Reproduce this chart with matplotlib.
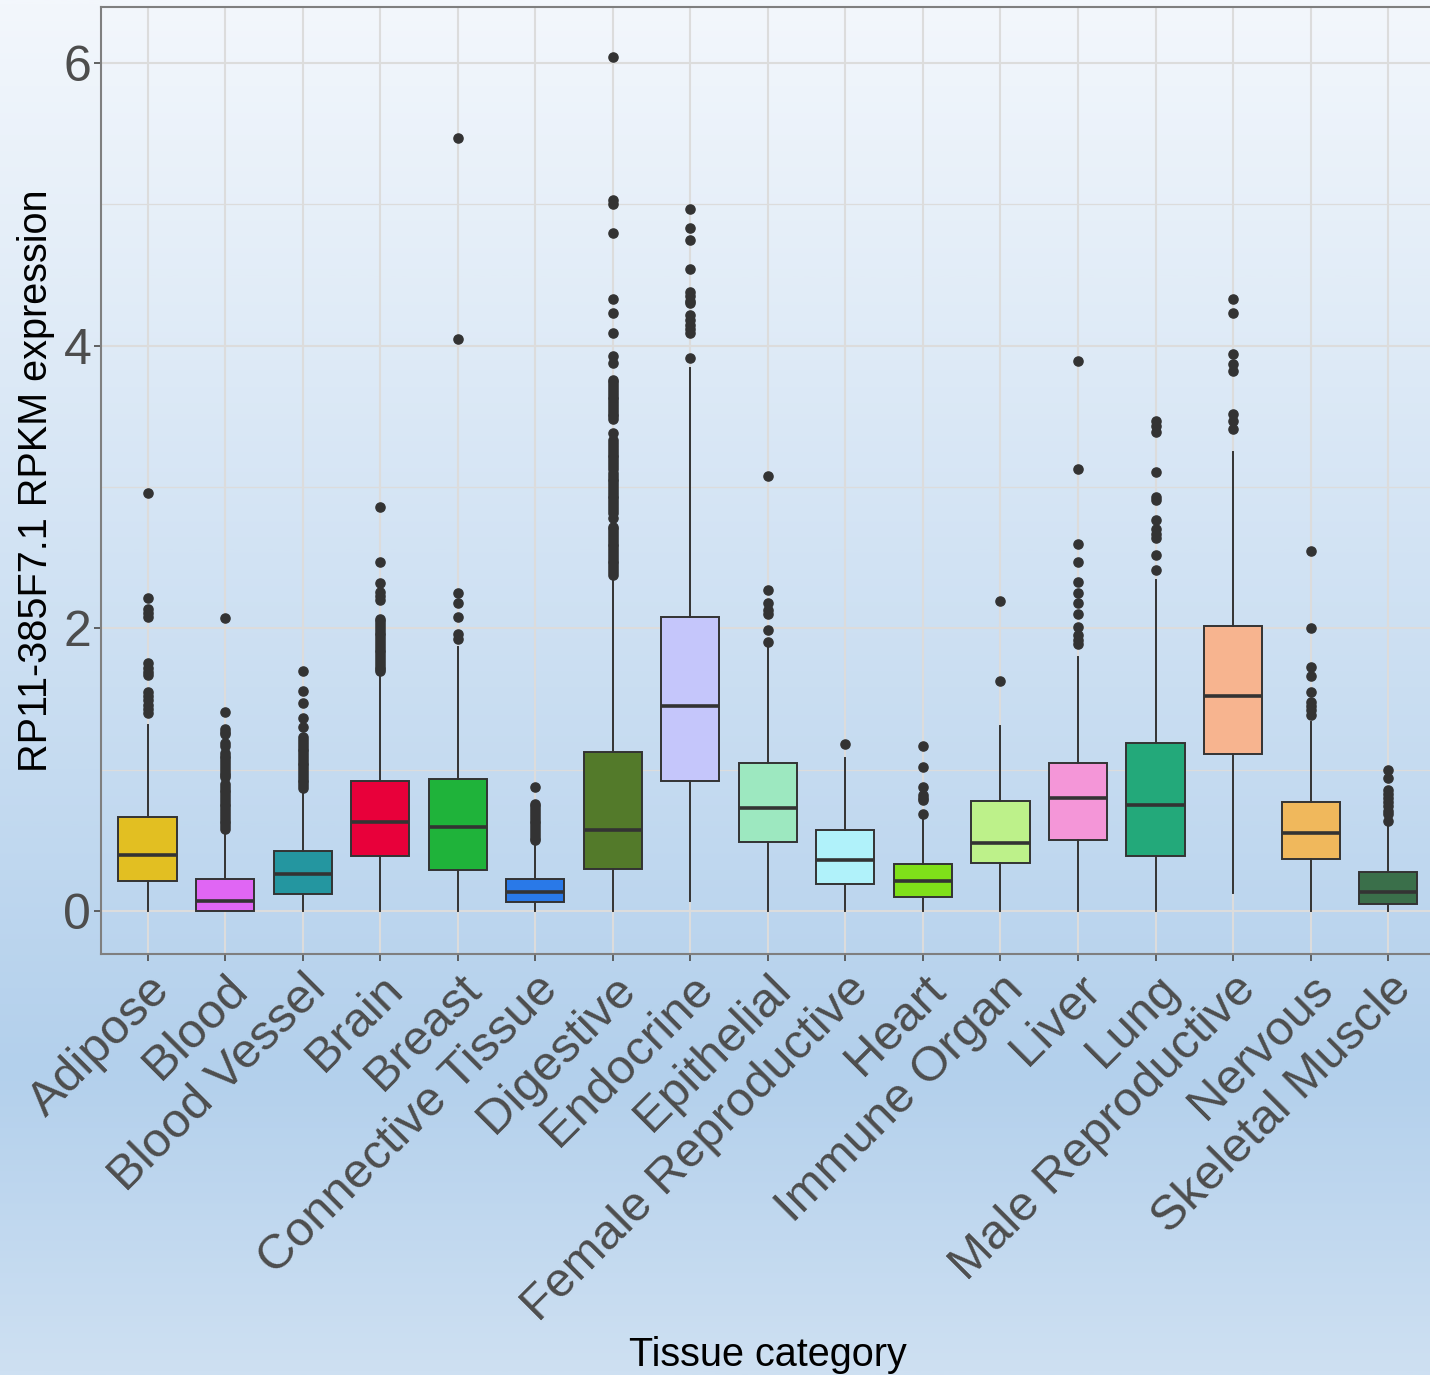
import numpy as np
import matplotlib
matplotlib.use("Agg")
import matplotlib.pyplot as plt
from matplotlib.colors import LinearSegmentedColormap

plt.rcParams['font.family'] = ['Liberation Sans', 'DejaVu Sans']

categories = ["Adipose", "Blood", "Blood Vessel", "Brain", "Breast", "Connective Tissue",
              "Digestive", "Endocrine", "Epithelial", "Female Reproductive", "Heart",
              "Immune Organ", "Liver", "Lung", "Male Reproductive", "Nervous", "Skeletal Muscle"]

whisker_low = [0.0, 0.0, 0.0, 0.0, 0.0, 0.0, 0.0, 0.07, 0.0, 0.0, 0.0, 0.0, 0.0, 0.0, 0.125, 0.0, 0.0]
q1 = [0.21, 0.0, 0.12, 0.39, 0.29, 0.066, 0.295, 0.92, 0.49, 0.19, 0.10, 0.34, 0.50, 0.39, 1.11, 0.37, 0.047]
median = [0.40, 0.07, 0.26, 0.628, 0.597, 0.132, 0.57, 1.45, 0.73, 0.36, 0.21, 0.483, 0.80, 0.75, 1.52, 0.55, 0.137]
q3 = [0.665, 0.23, 0.425, 0.92, 0.936, 0.226, 1.125, 2.08, 1.05, 0.573, 0.33, 0.78, 1.05, 1.19, 2.02, 0.77, 0.276]
whisker_high = [1.316, 0.56, 0.85, 1.68, 1.87, 0.48, 2.35, 3.84, 1.87, 1.08, 0.66, 1.31, 1.80, 2.34, 3.25, 1.34, 0.60]

outliers = [
    [2.955, 2.217, 2.14, 2.11, 2.08, 1.755, 1.72, 1.69, 1.67, 1.55, 1.52, 1.49, 1.46, 1.43, 1.40],
    [2.075, 1.405, 1.29, 1.27, 1.25, 1.19, 1.17, 1.12, 1.10, 1.08, 1.06, 1.04, 1.02, 1.00, 0.98,
     0.96, 0.95, 0.90, 0.88, 0.86, 0.84, 0.82, 0.80, 0.78, 0.76, 0.74, 0.72, 0.70, 0.68, 0.66,
     0.64, 0.62, 0.60, 0.58],
    [1.70, 1.556, 1.474, 1.368, 1.30, 1.23, 1.21, 1.19, 1.17, 1.15, 1.13, 1.11, 1.09, 1.07, 1.05,
     1.03, 1.01, 0.99, 0.97, 0.95, 0.93, 0.91, 0.89, 0.87],
    [2.86, 2.47, 2.32, 2.26, 2.23, 2.20, 2.07, 2.05, 2.03, 2.01, 1.99, 1.97, 1.95, 1.93, 1.91,
     1.89, 1.87, 1.85, 1.83, 1.81, 1.79, 1.77, 1.75, 1.73, 1.71, 1.70],
    [5.47, 4.05, 2.25, 2.18, 2.08, 1.96, 1.925],
    [0.875, 0.76, 0.74, 0.72, 0.70, 0.68, 0.66, 0.64, 0.62, 0.60, 0.58, 0.56, 0.54, 0.52, 0.50],
    [6.04, 5.03, 5.00, 4.80, 4.33, 4.23, 4.09, 3.93, 3.88,
     3.76, 3.74, 3.72, 3.70, 3.68, 3.66, 3.64, 3.62, 3.60, 3.58, 3.56, 3.54, 3.52, 3.50, 3.48,
     3.38, 3.33, 3.31, 3.29, 3.27, 3.25, 3.23, 3.21, 3.19, 3.17, 3.15, 3.13,
     3.10, 3.08, 3.06, 3.04, 3.02, 3.00, 2.98, 2.96, 2.94, 2.92, 2.90, 2.88, 2.86, 2.84, 2.82,
     2.78, 2.72, 2.70, 2.68, 2.66, 2.64, 2.62, 2.60, 2.58, 2.56, 2.54, 2.52, 2.50, 2.48, 2.46,
     2.44, 2.42, 2.40, 2.38],
    [4.97, 4.83, 4.75, 4.54, 4.38, 4.35, 4.32, 4.30, 4.22, 4.18, 4.15, 4.12, 4.09, 3.91],
    [3.08, 2.27, 2.18, 2.13, 2.10, 1.99, 1.905],
    [1.18],
    [1.17, 1.02, 0.877, 0.82, 0.80, 0.785, 0.69],
    [2.195, 1.63],
    [3.89, 3.13, 2.60, 2.47, 2.325, 2.25, 2.18, 2.105, 2.01, 1.95, 1.92, 1.89],
    [3.47, 3.43, 3.39, 3.11, 2.93, 2.91, 2.77, 2.70, 2.67, 2.64, 2.52, 2.41],
    [4.33, 4.23, 3.94, 3.87, 3.82, 3.52, 3.47, 3.41],
    [2.55, 2.00, 1.73, 1.66, 1.55, 1.48, 1.45, 1.42, 1.39],
    [1.00, 0.94, 0.86, 0.83, 0.80, 0.77, 0.74, 0.71, 0.69, 0.64],
]

fill_colors = ["#E2BF22", "#E066F4", "#2496A0", "#E8003A", "#1FB33A", "#2979E8",
               "#537A2A", "#C5C6FB", "#9DE8C0", "#B0F2FA", "#7FE019",
               "#BDF18A", "#F496D8", "#23A97A", "#F7B48F", "#F0B85C", "#3A6F4A"]

W, H = 1430, 1375
fig = plt.figure(figsize=(W / 100, H / 100), dpi=100)

# background gradient
bg = fig.add_axes([0, 0, 1, 1], zorder=-10)
cmap = LinearSegmentedColormap.from_list(
    "bg", [(0.0, "#F3F7FC"), (0.78, "#B3D0EC"), (1.0, "#CEE0F2")])
grad = np.linspace(0, 1, 512).reshape(-1, 1)
bg.imshow(grad, aspect='auto', cmap=cmap, extent=[0, 1, 0, 1], origin='upper')
bg.axis('off')

left = 101 / W
bottom = 1 - 954 / H
top = 1 - 7 / H
ax = fig.add_axes([left, bottom, 1 - left, top - bottom])
ax.set_facecolor('none')

stats = []
for i, name in enumerate(categories):
    stats.append(dict(med=median[i], q1=q1[i], q3=q3[i], whislo=whisker_low[i],
                      whishi=whisker_high[i], fliers=outliers[i], label=name))

positions = np.arange(1, len(categories) + 1)
edge = "#333333"
bp = ax.bxp(stats, positions=positions, widths=0.75, patch_artist=True, showcaps=False,
            boxprops=dict(edgecolor=edge, linewidth=1.4),
            medianprops=dict(color=edge, linewidth=2.6, solid_capstyle='butt'),
            whiskerprops=dict(color=edge, linewidth=1.4),
            flierprops=dict(marker='o', markerfacecolor=edge, markeredgecolor=edge,
                            markersize=6.6, linestyle='none'),
            zorder=3)
for patch, c in zip(bp['boxes'], fill_colors):
    patch.set_facecolor(c)

ax.set_xlim(0.4, 17.54)
ax.set_ylim(-0.304, 6.397)
ax.set_yticks([0, 2, 4, 6])
ax.set_yticks([1, 3, 5], minor=True)
ax.set_xticks(positions)
ax.set_xticklabels(categories, rotation=45, ha='right', va='top', rotation_mode='anchor')

gridc = "#DCDCDC"
ax.grid(True, which='major', axis='both', color=gridc, linewidth=1.5, zorder=0)
ax.grid(True, which='minor', axis='y', color=gridc, linewidth=0.9, zorder=0)
ax.set_axisbelow(True)

for s in ['left', 'top', 'bottom']:
    ax.spines[s].set_color('#7F7F7F')
    ax.spines[s].set_linewidth(1.5)
ax.spines['right'].set_visible(False)

ax.tick_params(axis='both', which='major', length=5, width=1.3, color='#555555',
               labelcolor='#4D4D4D', pad=2)
ax.tick_params(axis='y', which='minor', length=0)
ax.tick_params(axis='y', labelsize=36)
ax.tick_params(axis='x', labelsize=35.5, pad=4)

ax.set_ylabel("RP11-385F7.1 RPKM expression", fontsize=28.5, color='black', labelpad=6)
fig.text((101 + 1434) / 2 / W, 1 - 1366 / H, "Tissue category", fontsize=28.5,
         color='black', ha='center', va='baseline')

fig.savefig("out.png", dpi=100)
